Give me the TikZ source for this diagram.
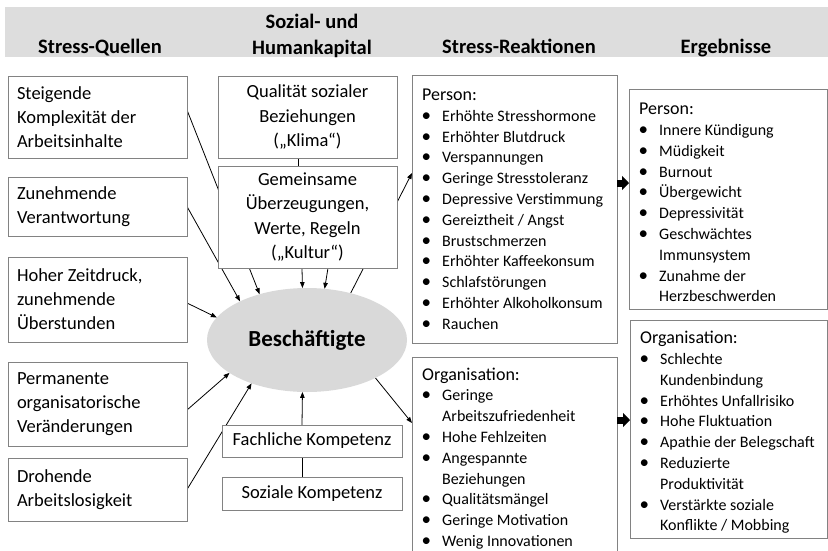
\documentclass[tikz,border=0pt]{standalone}
\usepackage{fontspec}
\setmainfont{Carlito}
\usetikzlibrary{arrows.meta,shapes.geometric}
\pgfdeclarelayer{bg}
\pgfsetlayers{bg,main}
\definecolor{boxline}{RGB}{130,130,130}
\definecolor{hdrfill}{RGB}{221,221,221}
\definecolor{ellfill}{RGB}{217,217,217}
\newcommand\lstitem[1]{\makebox[20pt][l]{\hspace*{-0.5pt}{\fontsize{19}{20}\selectfont\textbullet}}#1}
\newcommand\lstcont[1]{\hspace*{20pt}#1}
\newcommand\lsthead[1]{\strut{\fontsize{18}{20.8}\selectfont #1}}
\begin{document}
\begin{tikzpicture}[x=1pt,y=-1pt,
  box/.style={draw=boxline, line width=0.9pt, fill=white, inner sep=0pt, outer sep=0pt},
  lbox/.style={box, minimum width=179pt, inner xsep=9pt, inner ysep=0pt, text width=161pt, align=flush left, font=\fontsize{18.5}{24}\selectfont},
  cbox/.style={box, minimum width=179pt, inner xsep=4pt, inner ysep=0pt, text width=171pt, align=flush center, font=\fontsize{18.5}{24.5}\selectfont},
  kbox/.style={box, minimum width=180pt, font=\fontsize{18.5}{22}\selectfont},
  hdr/.style={font=\bfseries\fontsize{20.5}{26}\selectfont, inner sep=0pt},
  lst/.style={anchor=north west, inner sep=0pt, align=flush left, font=\fontsize{16}{20.8}\selectfont},
  conn/.style={line width=0.8pt, black},
  arr/.style={conn, -{Triangle[length=6pt,width=4.5pt]}},
  fat/.style={line width=7pt, -{Triangle[length=7pt,width=14pt]}}]
\useasboundingbox (0,0) rectangle (828,550);
\clip (0,0) rectangle (828,550);

% header band
\fill[hdrfill] (5,7) rectangle (828,57);
\node[hdr, anchor=base] (h1) at (100,53) {Stress-Quellen};
\node[hdr, anchor=south, align=center] (h2) at (312,58) {Sozial- und\\Humankapital};
\node[hdr, anchor=base] (h3) at (519,53) {Stress-Reaktionen};
\node[hdr, anchor=base] (h4) at (726,53) {Ergebnisse};

% stress sources
\node[lbox, minimum height=82pt] (q1) at (97.5,117) {Steigende\\Komplexität der\\Arbeitsinhalte};
\node[lbox, minimum height=59pt] (q2) at (97.5,206.5) {Zunehmende\\Verantwortung};
\node[lbox, minimum height=85pt] (q3) at (97.5,299.5) {Hoher Zeitdruck,\\zunehmende\\Überstunden};
\node[lbox, minimum height=84pt] (q4) at (97.5,404) {Permanente\\organisatorische\\Veränderungen};
\node[lbox, minimum height=63pt] (q5) at (97.5,489.5) {Drohende\\Arbeitslosigkeit};

% social and human capital
\node[cbox, minimum height=82pt] (k1) at (307.5,117) {Qualität sozialer\\Beziehungen\\(„Klima“)};
\node[cbox, minimum height=102pt] (k2) at (307.5,217) {Gemeinsame\\Überzeugungen,\\Werte, Regeln\\(„Kultur“)};
\node[ellipse, fill=ellfill, minimum width=200pt, minimum height=104pt, inner sep=0pt, outer sep=0pt,
      font=\bfseries\fontsize{23}{26}\selectfont] (emp) at (307,340) {Beschäftigte};
\node[kbox, minimum height=32pt] (f1) at (312,441) {Fachliche Kompetenz};
\node[kbox, minimum height=33pt] (f2) at (312,493.5) {Soziale Kompetenz};

% reactions
\node[box, minimum width=205pt, minimum height=268pt] (pr) at (514.5,209) {};
\node[box, minimum width=205pt, minimum height=203pt] (or) at (514.5,458.5) {};
\node[lst] (prt) at (422,85.8) {\lsthead{Person:}\\
  \lstitem{Erhöhte Stresshormone}\\
  \lstitem{Erhöhter Blutdruck}\\
  \lstitem{Verspannungen}\\
  \lstitem{Geringe Stresstoleranz}\\
  \lstitem{Depressive Verstimmung}\\
  \lstitem{Gereiztheit / Angst}\\
  \lstitem{Brustschmerzen}\\
  \lstitem{Erhöhter Kaffeekonsum}\\
  \lstitem{Schlafstörungen}\\
  \lstitem{Erhöhter Alkoholkonsum}\\
  \lstitem{Rauchen}};
\node[lst] (ort) at (422,365.4) {\lsthead{Organisation:}\\
  \lstitem{Geringe}\\
  \lstcont{Arbeitszufriedenheit}\\
  \lstitem{Hohe Fehlzeiten}\\
  \lstitem{Angespannte}\\
  \lstcont{Beziehungen}\\
  \lstitem{Qualitätsmängel}\\
  \lstitem{Geringe Motivation}\\
  \lstitem{Wenig Innovationen}};

% results
\node[box, minimum width=198pt, minimum height=220pt] (ep) at (728,199) {};
\node[box, minimum width=197pt, minimum height=218pt] (eo) at (728.5,429) {};
\node[lst] (ept) at (639,100) {\lsthead{Person:}\\
  \lstitem{Innere Kündigung}\\
  \lstitem{Müdigkeit}\\
  \lstitem{Burnout}\\
  \lstitem{Übergewicht}\\
  \lstitem{Depressivität}\\
  \lstitem{Geschwächtes}\\
  \lstcont{Immunsystem}\\
  \lstitem{Zunahme der}\\
  \lstcont{Herzbeschwerden}};
\node[lst] (eot) at (640,329) {\lsthead{Organisation:}\\
  \lstitem{Schlechte}\\
  \lstcont{Kundenbindung}\\
  \lstitem{Erhöhtes Unfallrisiko}\\
  \lstitem{Hohe Fluktuation}\\
  \lstitem{Apathie der Belegschaft}\\
  \lstitem{Reduzierte}\\
  \lstcont{Produktivität}\\
  \lstitem{Verstärkte soziale}\\
  \lstcont{Konflikte / Mobbing}};

% fat arrows
\draw[fat] ([yshift=26pt]pr.east) -- ([yshift=16pt]ep.west);
\draw[fat] ([yshift=-63pt]or.north east) -- ([yshift=9pt]eo.west);

% connectors
\begin{pgfonlayer}{bg}
\draw[arr] ([yshift=7pt]q1.east) -- (emp.136);
\draw[arr] (q2.east) -- (emp.150);
\draw[arr] ([yshift=-3.5pt]q3.east) -- (emp.166);
\draw[arr] ([yshift=-6pt]q4.east) -- (emp.203);
\draw[arr] (q5.east) -- (emp.218);
\draw[conn] ([xshift=-9.5pt]k1.south) -- ([xshift=-9.5pt]k2.north);
\draw[arr] ([xshift=-5.5pt]k2.south) -- (emp.95);
\draw[arr] ([xshift=20.5pt]k2.south) -- (emp.71);
\draw[arr] (emp.47) -- ([yshift=36pt]pr.west);
\draw[arr] (emp.-29) -- ([yshift=-66pt]or.north west);
\draw[arr] ([xshift=-10pt]f1.north) -- (emp.265);
\draw[conn] ([xshift=-10pt]f1.south) -- ([xshift=-10pt]f2.north);
\end{pgfonlayer}
\end{tikzpicture}
\end{document}
